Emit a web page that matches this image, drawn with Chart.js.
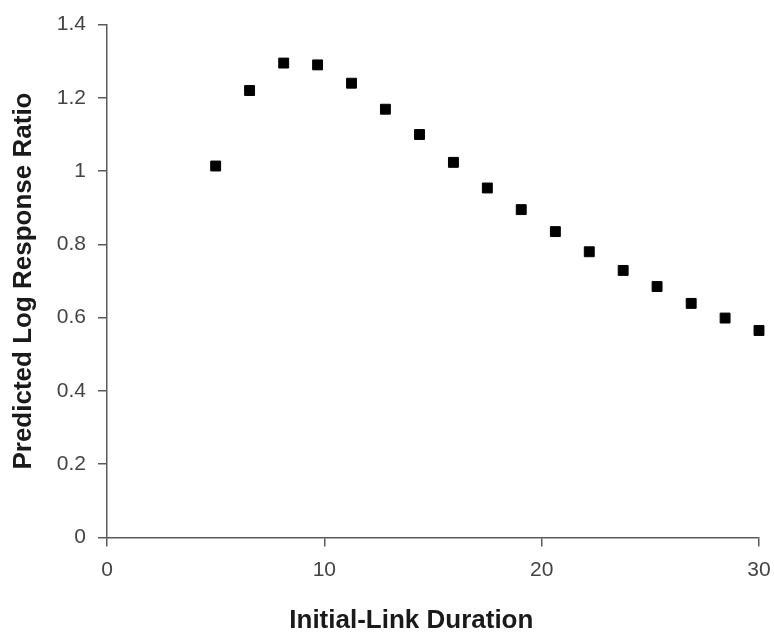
<!DOCTYPE html>
<html>
<head>
<meta charset="utf-8">
<script src="https://cdn.jsdelivr.net/npm/chart.js@4.4.1/dist/chart.umd.min.js"></script>
<style>
  html, body { margin: 0; padding: 0; background: #fff; }
</style>
</head>
<body>
<canvas id="myChart" width="774" height="639"></canvas>
<script>
const duracao = [5, 6.56, 8.13, 9.69, 11.25, 12.81, 14.38, 15.94, 17.5, 19.06, 20.63, 22.19, 23.75, 25.31, 26.88, 28.44, 30];
const razaoLog = [1.014, 1.22, 1.295, 1.29, 1.24, 1.169, 1.10, 1.024, 0.954, 0.895, 0.835, 0.78, 0.729, 0.685, 0.639, 0.599, 0.565];
const ticksX = [0, 10, 20, 30];
const ticksY = [0, 0.2, 0.4, 0.6, 0.8, 1, 1.2, 1.4];

// espacos no fim empurram o titulo um pouco para a esquerda, como no original
const tituloX = 'Initial-Link Duration      ';
const tituloY = 'Predicted Log Response Ratio';

const ctx = document.getElementById('myChart');

const pontos = duracao.map((d, i) => ({ x: d, y: razaoLog[i] }));

const corEixo = '#5a5a5a';
const fonteTick = { family: 'Liberation Sans, Arial, sans-serif', size: 21 };
const fonteTitulo = { family: 'Liberation Sans, Arial, sans-serif', size: 26, weight: 'bold' };

new Chart(ctx, {
  type: 'scatter',
  data: {
    datasets: [{
      label: tituloY,
      data: pontos,
      pointStyle: 'rect',
      pointRadius: 7,
      pointHoverRadius: 7,
      backgroundColor: '#000',
      borderColor: '#000',
      borderWidth: 1,
      clip: false
    }]
  },
  options: {
    responsive: false,
    animation: false,
    devicePixelRatio: 1,
    layout: { padding: { left: 0, top: 20, right: 15, bottom: 0 } },
    plugins: {
      legend: { display: false },
      tooltip: { enabled: false }
    },
    scales: {
      x: {
        type: 'linear',
        min: 0,
        max: 30,
        afterBuildTicks: (s) => { s.ticks = ticksX.map(v => ({ value: v })); },
        afterFit: (s) => { s.height = 101.5; s.paddingLeft = 0; s.paddingRight = 0; },
        grid: { drawOnChartArea: false, drawTicks: true, tickLength: 9, color: corEixo, lineWidth: 1.5 },
        border: { display: true, color: corEixo, width: 1.5 },
        ticks: { color: '#444', font: fonteTick, padding: 11, maxRotation: 0 },
        title: { display: true, text: tituloX, color: '#1a1a1a', font: fonteTitulo, padding: { top: 0, bottom: 3 } }
      },
      y: {
        type: 'linear',
        min: 0,
        max: 1.4,
        afterBuildTicks: (s) => { s.ticks = ticksY.map(v => ({ value: v })); },
        afterFit: (s) => { s.width = 107; },
        grid: { drawOnChartArea: false, drawTicks: true, tickLength: 9, color: corEixo, lineWidth: 1.5 },
        border: { display: true, color: corEixo, width: 1.5 },
        ticks: { color: '#444', font: fonteTick, padding: 12, callback: (v) => String(v) },
        title: { display: true, text: tituloY, color: '#1a1a1a', font: fonteTitulo, padding: { top: 8, bottom: 0 } }
      }
    }
  }
});
</script>
</body>
</html>
